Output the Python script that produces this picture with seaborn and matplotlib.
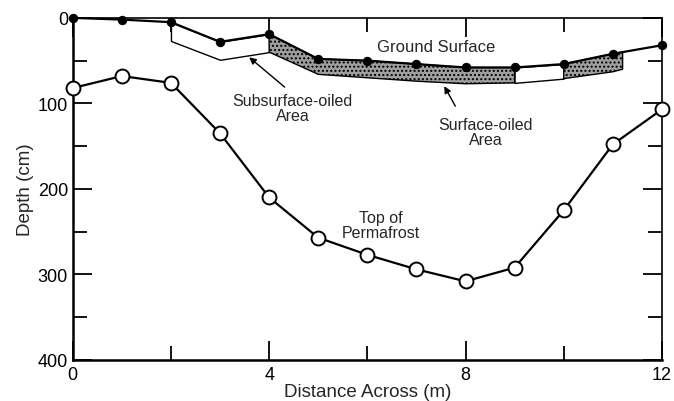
import numpy as np
import pandas as pd
import matplotlib.pyplot as plt
import seaborn as sns

# Data (depth in cm, distance in m)
distance = [0, 1, 2, 3, 4, 5, 6, 7, 8, 9, 10, 11, 12]
ground_depth = [0, 2, 5, 28, 19, 48, 50, 54, 58, 58, 54, 42, 32]
permafrost_depth = [82, 68, 76, 135, 210, 257, 277, 294, 308, 292, 225, 148, 107]

# bottom of oiled layer
oil_x = [2, 3, 4, 5, 6, 7, 8, 9, 10, 11, 11.2]
oil_bottom = [27, 49, 40, 66, 70, 74, 77, 76, 71, 63, 60]

df = pd.DataFrame({'distance': distance, 'ground': ground_depth, 'permafrost': permafrost_depth})

sns.set_style('ticks')
plt.rcParams['font.family'] = ['Liberation Sans', 'DejaVu Sans']
plt.rcParams['hatch.color'] = '#5e5e5e'

fig = plt.figure(figsize=(6.74, 4.02), dpi=100)
ax = fig.add_axes([0.108, 0.102, 0.874, 0.851])

gx = np.array(distance, dtype=float)
gy = np.array(ground_depth, dtype=float)
ox = np.array(oil_x)
oy = np.array(oil_bottom)


def patch(x0, x1, shaded):
    xs = np.unique(np.concatenate([[x0, x1], gx[(gx > x0) & (gx < x1)], ox[(ox > x0) & (ox < x1)]]))
    top = np.interp(xs, gx, gy)
    bot = np.interp(xs, ox, oy)
    ax.fill_between(xs, top, bot, facecolor='#a0a0a0' if shaded else 'white',
                    edgecolor='black', linewidth=1.0, hatch='....' if shaded else None, zorder=2)


patch(2, 4, False)
patch(4, 9, True)
patch(9, 10, False)
patch(10, 11.2, True)

sns.lineplot(data=df, x='distance', y='ground', ax=ax, color='black', linewidth=1.6,
             marker='o', markersize=6, markerfacecolor='black', markeredgecolor='black',
             zorder=4, clip_on=False)
sns.lineplot(data=df, x='distance', y='permafrost', ax=ax, color='black', linewidth=1.6,
             marker='o', markersize=10, markerfacecolor='white', markeredgecolor='black',
             markeredgewidth=1.4, zorder=4, clip_on=False)

ax.set_xlim(0, 12)
ax.set_ylim(400, 0)
ax.set_xticks([0, 4, 8, 12])
ax.set_xticks([2, 6, 10], minor=True)
ax.set_yticks([0, 100, 200, 300, 400])
ax.set_yticks([50, 150, 250, 350], minor=True)
ax.tick_params(which='both', direction='in', top=True, right=True, width=1.3,
               labelsize=13, colors='black')
ax.tick_params(which='major', length=14)
ax.tick_params(which='minor', length=10)
ax.tick_params(axis='x', pad=4)

for side in ['left', 'bottom']:
    ax.spines[side].set_linewidth(1.8)
for side in ['top', 'right']:
    ax.spines[side].set_linewidth(1.2)
for s in ax.spines.values():
    s.set_color('black')

ax.set_xlabel('Distance Across (m)', fontsize=13.5, labelpad=0)
ax.set_ylabel('Depth (cm)', fontsize=13.5, labelpad=3)

ax.text(7.4, 34, 'Ground Surface', fontsize=12, ha='center', va='center')
ax.text(4.48, 105, 'Subsurface-oiled\nArea', fontsize=11.5, ha='center', va='center', linespacing=1.0)
ax.text(8.41, 134, 'Surface-oiled\nArea', fontsize=11.5, ha='center', va='center', linespacing=1.0)
ax.text(6.28, 242, 'Top of\nPermafrost', fontsize=11.5, ha='center', va='center', linespacing=1.0)

ax.annotate('', xy=(3.55, 44), xytext=(4.36, 83),
            arrowprops=dict(arrowstyle='-|>', color='black', lw=1.0, mutation_scale=10))
ax.annotate('', xy=(7.54, 77), xytext=(7.82, 106),
            arrowprops=dict(arrowstyle='-|>', color='black', lw=1.0, mutation_scale=10))

fig.savefig('out.png', dpi=100)
